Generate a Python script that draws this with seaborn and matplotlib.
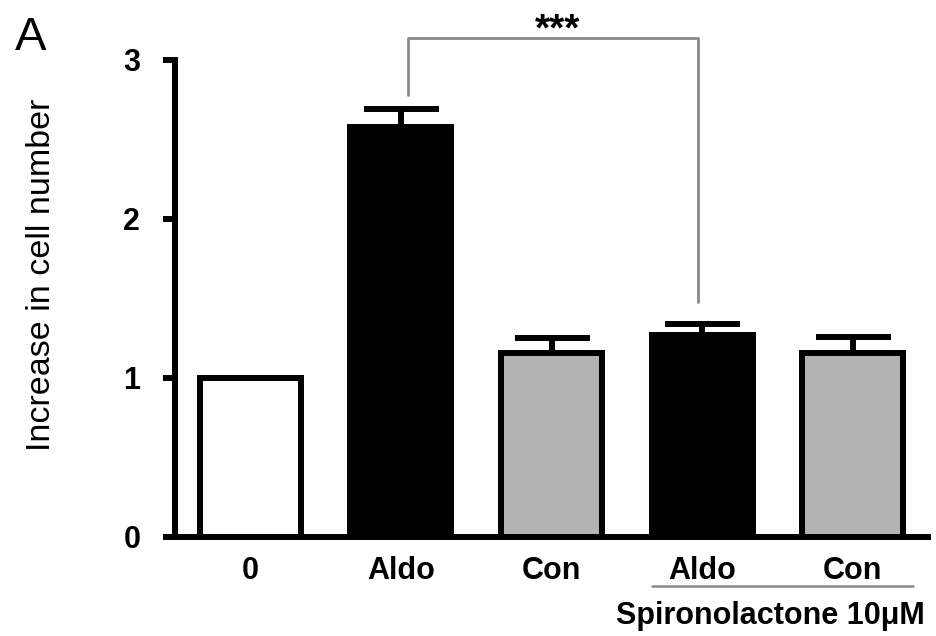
import matplotlib
matplotlib.use("Agg")
import matplotlib.pyplot as plt
import seaborn as sns

conditions = ["0", "Aldo", "Con", "Spiro Aldo", "Spiro Con"]
tick_labels = ["0", "Aldo", "Con", "Aldo", "Con"]
means = [1.0, 2.58, 1.16, 1.27, 1.16]
sems = [0.0, 0.11, 0.09, 0.07, 0.10]
fills = ["white", "black", "#b2b2b2", "black", "#b2b2b2"]

sns.set_style("ticks", {"axes.edgecolor": "black", "text.color": "black",
                        "xtick.color": "black", "ytick.color": "black",
                        "axes.labelcolor": "black"})
plt.rcParams["font.family"] = ["Liberation Sans", "DejaVu Sans"]

fig = plt.figure(figsize=(9.37, 6.36), dpi=100)
ax = fig.add_axes([0.1868, 0.1557, 0.8036, 0.75])

sns.barplot(x=conditions, y=means, hue=conditions, palette=fills, legend=False,
            order=conditions, width=0.67, edgecolor="black", linewidth=4.3,
            ax=ax, zorder=2)

# upper-only error bars (first bar has none)
idx = [i for i, e in enumerate(sems) if e > 0]
ax.errorbar(idx, [means[i] for i in idx],
            yerr=[[0] * len(idx), [sems[i] for i in idx]],
            fmt="none", ecolor="black", elinewidth=4.3, capsize=27,
            capthick=4.3, zorder=1)

ax.set_xlim(-0.5, 4.5)
ax.set_ylim(0, 3)
ax.set_yticks([0, 1, 2, 3])
ax.set_xticks(range(len(conditions)))
ax.set_xticklabels(tick_labels, fontsize=22, fontweight="bold")
for lab in ax.get_yticklabels():
    lab.set_fontsize(22)
    lab.set_fontweight("bold")
ax.tick_params(axis="x", length=0, pad=14)
ax.tick_params(axis="y", length=9, width=4.3, pad=16)
for s in ["top", "right"]:
    ax.spines[s].set_visible(False)
for s in ["left", "bottom"]:
    ax.spines[s].set_linewidth(4.3)

ax.set_xlabel("")
ax.set_ylabel("Increase in cell number", fontsize=24.5)
ax.yaxis.set_label_coords(-0.157, 0.55)

# significance bracket
grey = "#8a8a8a"
ax.plot([1.05, 1.05, 2.97, 2.97], [2.78, 3.14, 3.14, 1.48], color=grey,
        lw=2, clip_on=False, zorder=3)
ax.text(2.04, 3.07, "***", ha="center", va="bottom", fontsize=28,
        fontweight="bold")

# spironolactone group line
ax.plot([2.67, 4.40], [-0.31, -0.31], color=grey, lw=1.8, clip_on=False)
ax.text(3.45, -0.40, "Spironolactone 10μM", ha="center", va="top",
        fontsize=22, fontweight="bold")

fig.text(0.016, 0.975, "A", fontsize=34, ha="left", va="top")

fig.savefig("out.png", dpi=100)
